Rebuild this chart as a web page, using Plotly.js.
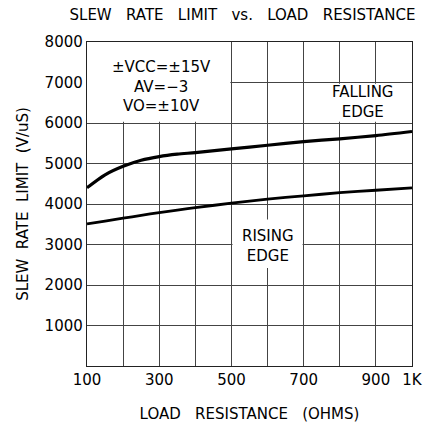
<!DOCTYPE html>
<html>
<head>
<meta charset="utf-8">
<script src="https://cdn.plot.ly/plotly-3.0.1.min.js"></script>
<style>html,body{margin:0;padding:0;background:#fff;}#chart{width:424px;height:431px;}</style>
</head>
<body>
<div id="chart"></div>
<script>
// Load resistance (ohms)
const resistance = [100, 150, 200, 250, 300, 350, 400, 500, 600, 700, 800, 900, 1000];
// Slew rate limit (V/uS)
const fallingEdge = [4400, 4720, 4930, 5080, 5170, 5230, 5270, 5360, 5450, 5540, 5610, 5690, 5790];
const risingEdge  = [3510, 3580, 3650, 3720, 3790, 3850, 3910, 4020, 4120, 4200, 4280, 4340, 4400];

const xGrid = [100, 200, 300, 400, 500, 600, 700, 800, 900, 1000];
const xTickText = ['100', '', '300', '', '500', '', '700', '', '900', '1K'];
const yGrid = [1000, 2000, 3000, 4000, 5000, 6000, 7000, 8000];
const yTickText = ['1000', '2000', '3000', '4000', '5000', '6000', '7000', '8000'];

const FONT = 'DejaVu Sans, sans-serif';
const INK = '#000';
const SP = '\u00a0\u00a0\u00a0';

const traces = [
  {x: resistance, y: fallingEdge, mode: 'lines', name: 'Falling edge',
   line: {color: INK, width: 3.2, shape: 'spline', smoothing: 0.8}},
  {x: resistance, y: risingEdge, mode: 'lines', name: 'Rising edge',
   line: {color: INK, width: 2.8, shape: 'spline', smoothing: 0.8}}
];

const whiteBox = (x0, x1, y0, y1) => ({type: 'rect', layer: 'between', xref: 'x', yref: 'y',
  x0, x1, y0, y1, fillcolor: '#fff', line: {width: 0}});

const layout = {
  width: 424, height: 431,
  margin: {l: 87, r: 12, t: 42, b: 65},
  paper_bgcolor: '#fff', plot_bgcolor: '#fff',
  showlegend: false,
  font: {family: FONT, color: INK, size: 15},
  title: {text: ['SLEW', 'RATE', 'LIMIT', 'vs.', 'LOAD', 'RESISTANCE'].join(SP), x: 0.572, xanchor: 'center', y: 0.965, yanchor: 'middle',
          font: {family: FONT, size: 15, color: INK}},
  xaxis: {range: [100, 1000], tickvals: xGrid, ticktext: xTickText, ticks: '',
          showgrid: true, gridcolor: '#444', gridwidth: 1, zeroline: false,
          showline: true, linecolor: '#222', linewidth: 1.2, mirror: true,
          tickfont: {family: FONT, size: 15, color: INK},
          title: {text: ['LOAD', 'RESISTANCE', '(OHMS)'].join(SP), font: {family: FONT, size: 15, color: INK}, standoff: 20}},
  yaxis: {range: [0, 8000], tickvals: yGrid, ticktext: yTickText, ticks: '',
          showgrid: true, gridcolor: '#444', gridwidth: 1, zeroline: false,
          showline: true, linecolor: '#222', linewidth: 1.2, mirror: true,
          tickfont: {family: FONT, size: 15, color: INK},
          title: {text: ['SLEW', 'RATE', 'LIMIT', '(V/uS)'].join('\u00a0\u00a0'), font: {family: FONT, size: 15, color: INK}, standoff: 12}},
  shapes: [
    whiteBox(100, 497, 6030, 8000),
    whiteBox(703, 1000, 6030, 6970),
    whiteBox(503, 697, 2420, 3620)
  ],
  annotations: [
    {x: 307, y: 6900, xref: 'x', yref: 'y', text: '±VCC=±15V<br>AV=−3<br>VO=±10V', showarrow: false,
     font: {family: FONT, size: 15, color: INK}, align: 'center'},
    {x: 864, y: 6520, xref: 'x', yref: 'y', text: 'FALLING<br>EDGE', showarrow: false,
     font: {family: FONT, size: 15, color: INK}, align: 'center'},
    {x: 600, y: 2975, xref: 'x', yref: 'y', text: 'RISING<br>EDGE', showarrow: false,
     font: {family: FONT, size: 15, color: INK}, align: 'center'}
  ]
};

Plotly.newPlot('chart', traces, layout, {displayModeBar: false, staticPlot: true});
</script>
</body>
</html>
